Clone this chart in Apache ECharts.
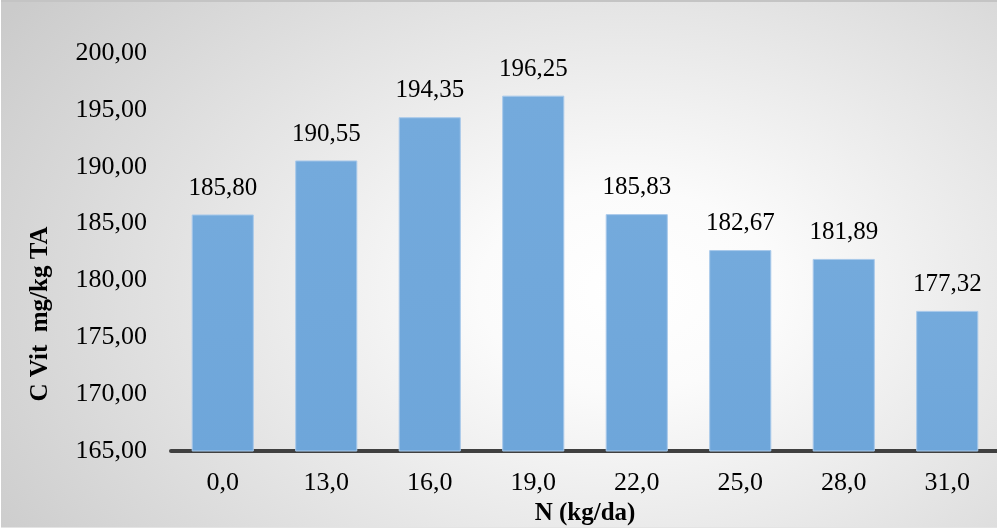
<!DOCTYPE html>
<html>
<head>
<meta charset="utf-8">
<script src="https://cdn.jsdelivr.net/npm/echarts@6/dist/echarts.min.js"></script>
<style>
  html, body { margin: 0; padding: 0; background: #ffffff; }
  #chart {
    position: absolute; left: 1px; top: 0; width: 996px; height: 528px;
    background: radial-gradient(ellipse 75% 95% at 63% 55%, #ffffff 0%, #fbfbfb 20%, #e6e6e6 55%, #cbcbcb 100%);
    border-top: 2px solid #c4c4c4;
    border-bottom: 1px solid #e4e4e4;
    box-sizing: border-box;
  }
</style>
</head>
<body>
<div id="chart"></div>
<script>
// Vitamin C content by nitrogen dose
const categories = ['0,0', '13,0', '16,0', '19,0', '22,0', '25,0', '28,0', '31,0'];
const vitaminC = [185.80, 190.55, 194.35, 196.25, 185.83, 182.67, 181.89, 177.32];
const yTicks = { min: 165, max: 200, step: 5 };

const fmt = v => v.toFixed(2).replace('.', ',');
const serif = '"Liberation Serif", "Times New Roman", serif';

const chart = echarts.init(document.getElementById('chart'), null, { renderer: 'canvas' });
chart.setOption({
  backgroundColor: 'transparent',
  animation: false,
  grid: { left: 170, right: -2, top: 51, bottom: 76, containLabel: false, outerBoundsMode: 'none' },
  xAxis: {
    type: 'category',
    data: categories,
    name: 'N (kg/da)',
    nameLocation: 'middle',
    nameGap: 48,
    nameTextStyle: { fontFamily: serif, fontSize: 25, fontWeight: 'bold', color: '#000' },
    axisLine: { lineStyle: { color: '#404040', width: 4 } },
    axisTick: { show: false },
    axisLabel: { fontFamily: serif, fontSize: 26, color: '#000', margin: 19 }
  },
  yAxis: {
    type: 'value',
    min: yTicks.min,
    max: yTicks.max,
    interval: yTicks.step,
    axisLine: { show: false },
    axisTick: { show: false },
    splitLine: { show: false },
    axisLabel: { fontFamily: serif, fontSize: 26, color: '#000', margin: 24, formatter: v => fmt(v) }
  },
  graphic: [{
    type: 'text',
    x: 40,
    y: 312,
    rotation: Math.PI / 2,
    style: {
      text: 'C Vit  mg/kg TA',
      font: 'bold 25px ' + serif,
      fill: '#000',
      align: 'center',
      verticalAlign: 'middle'
    }
  }],
  series: [{
    type: 'bar',
    data: vitaminC,
    barWidth: '60%',
    itemStyle: {
      color: new echarts.graphic.LinearGradient(0, 0, 0, 1, [
        { offset: 0, color: '#74aadc' },
        { offset: 1, color: '#6ea6da' }
      ]),
      borderColor: '#a8c9ea',
      borderWidth: 1
    },
    label: {
      show: true,
      position: 'top',
      distance: 14,
      fontFamily: serif,
      fontSize: 25,
      color: '#000',
      formatter: p => fmt(p.value)
    }
  }]
});
</script>
</body>
</html>
